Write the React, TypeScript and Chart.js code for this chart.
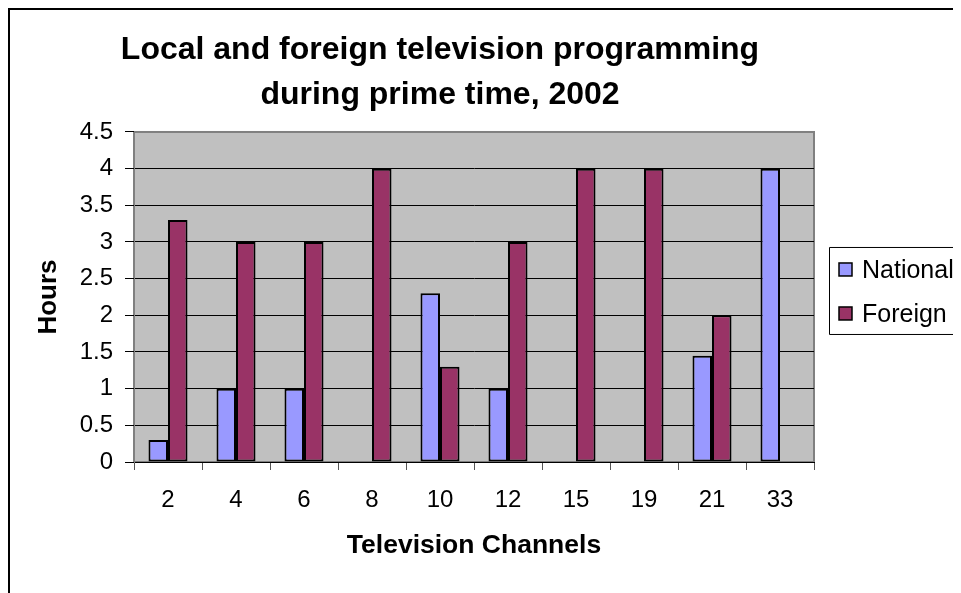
import { useEffect, useRef } from 'react';
import { Chart, registerables } from 'chart.js';

Chart.register(...registerables);

const channels = ['2', '4', '6', '8', '10', '12', '15', '19', '21', '33'];
const nationalHours = [0.3, 1, 1, null, 2.3, 1, null, null, 1.45, 4];
const foreignHours = [3.3, 3, 3, 4, 1.3, 3, 4, 4, 2, null];
const seriesNames = ['National', 'Foreign'];
const seriesColors = ['#9999FF', '#993366'];
const titleLines = ['Local and foreign television programming', 'during prime time, 2002'];
const xAxisTitle = 'Television Channels';
const yAxisTitle = 'Hours';

const FONT = "'Liberation Sans', Arial, sans-serif";

const framePlugin = {
  id: 'frame',
  beforeDraw(chart: any) {
    const { ctx, chartArea: a, width, height } = chart;
    ctx.save();
    ctx.fillStyle = '#ffffff';
    ctx.fillRect(0, 0, width, height);
    ctx.fillStyle = '#000000';
    ctx.fillRect(0, 0, 2, height);
    ctx.fillRect(0, 0, width, 2);
    ctx.fillStyle = '#C0C0C0';
    ctx.fillRect(a.left, a.top, a.right - a.left, a.bottom - a.top);
    ctx.strokeStyle = '#808080';
    ctx.lineWidth = 2;
    ctx.strokeRect(a.left, a.top, a.right - a.left, a.bottom - a.top);
    ctx.restore();
  },
};

const boxLegendPlugin = {
  id: 'boxLegend',
  afterDraw(chart: any) {
    const { ctx, chartArea: a, width } = chart;
    const left = a.right + 15;
    const top = a.top + 115;
    const h = 87;
    ctx.save();
    ctx.strokeStyle = '#000000';
    ctx.lineWidth = 1;
    ctx.beginPath();
    ctx.moveTo(width + 5, top + 0.5);
    ctx.lineTo(left + 0.5, top + 0.5);
    ctx.lineTo(left + 0.5, top + h + 0.5);
    ctx.lineTo(width + 5, top + h + 0.5);
    ctx.stroke();
    ctx.font = `25px ${FONT}`;
    ctx.textBaseline = 'middle';
    ctx.textAlign = 'left';
    chart.data.datasets.forEach((ds: any, i: number) => {
      const cy = top + 23 + i * 44;
      ctx.fillStyle = ds.backgroundColor;
      ctx.fillRect(left + 10, cy - 7, 13, 13);
      ctx.strokeStyle = '#000000';
      ctx.lineWidth = 1.5;
      ctx.strokeRect(left + 10, cy - 7, 13, 13);
      ctx.fillStyle = '#000000';
      ctx.fillText(ds.label, left + 33, cy + 1);
    });
    ctx.restore();
  },
};

export default function App() {
  const canvasRef = useRef<HTMLCanvasElement | null>(null);

  useEffect(() => {
    document.documentElement.style.overflow = 'hidden';
    const canvas = canvasRef.current;
    if (!canvas) return;
    Chart.defaults.font.family = FONT;
    Chart.defaults.color = '#000000';

    const chart = new Chart(canvas, {
      type: 'bar',
      data: {
        labels: channels,
        datasets: [
          {
            label: seriesNames[0],
            data: nationalHours,
            backgroundColor: seriesColors[0],
            borderColor: '#000000',
            borderWidth: 2,
            borderSkipped: false,
            categoryPercentage: 0.574,
            barPercentage: 1,
          },
          {
            label: seriesNames[1],
            data: foreignHours,
            backgroundColor: seriesColors[1],
            borderColor: '#000000',
            borderWidth: 2,
            borderSkipped: false,
            categoryPercentage: 0.574,
            barPercentage: 1,
          },
        ],
      },
      options: {
        responsive: false,
        animation: false,
        devicePixelRatio: 1,
        layout: { padding: { left: 58, right: 147, top: 0, bottom: 0 } },
        plugins: {
          legend: { display: false },
          tooltip: { enabled: false },
          title: {
            display: true,
            text: titleLines,
            color: '#000000',
            font: { size: 32, weight: 'bold', family: FONT, lineHeight: 1.406 },
            padding: { top: 19.5, bottom: 14.5 },
          },
        },
        scales: {
          x: {
            grid: {
              display: true,
              drawOnChartArea: false,
              drawTicks: true,
              tickLength: 8,
              color: '#555555',
              offset: true,
            },
            border: { display: true, color: '#000000', width: 1 },
            ticks: {
              font: { size: 24, family: FONT },
              padding: 16,
              color: '#000000',
              maxRotation: 0,
              autoSkip: false,
            },
            title: {
              display: true,
              text: xAxisTitle,
              color: '#000000',
              font: { size: 26.5, weight: 'bold', family: FONT, lineHeight: 1.2 },
              padding: { top: 0, bottom: 31 },
            },
            afterFit(scale: any) {
              scale.height = 131;
            },
          },
          y: {
            min: 0,
            max: 4.5,
            grid: {
              drawTicks: true,
              tickLength: 9,
              lineWidth: 1,
              color: (ctx: any) => (ctx.tick && ctx.tick.value === 4.5 ? '#808080' : '#000000'),
              tickColor: '#000000',
            },
            border: { display: true, color: '#808080', width: 1 },
            ticks: {
              stepSize: 0.5,
              font: { size: 24, family: FONT },
              padding: 12,
              color: '#000000',
              callback: (v: any) => String(Math.round(Number(v) * 10) / 10),
            },
            title: {
              display: true,
              text: yAxisTitle,
              color: '#000000',
              font: { size: 26, weight: 'bold', family: FONT, lineHeight: 1.2 },
              padding: { top: -33.1, bottom: 0 },
            },
            afterFit(scale: any) {
              scale.width = 68;
            },
          },
        },
      },
      plugins: [framePlugin, boxLegendPlugin],
    } as any);

    return () => {
      chart.destroy();
    };
  }, []);

  return (
    <div style={{ width: 953, height: 585 }}>
      <canvas ref={canvasRef} width={953} height={585} style={{ display: 'block' }} />
    </div>
  );
}
